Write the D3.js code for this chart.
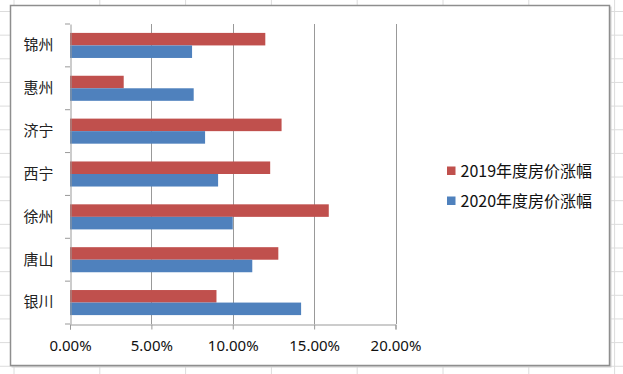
<!DOCTYPE html>
<html>
<head>
<meta charset="utf-8">
<script src="https://cdn.jsdelivr.net/npm/d3@7"></script>
<style>
  body { margin: 0; background: #fff; }
  svg { display: block; }
</style>
</head>
<body>
<div class="canvas"></div>
<script>
// data (Excel lists the first category at the bottom)
const cities = ['银川', '唐山', '徐州', '西宁', '济宁', '惠州', '锦州'];
const seriesNames = ['2019年度房价涨幅', '2020年度房价涨幅'];
const rise2019 = [0.090, 0.128, 0.159, 0.123, 0.130, 0.033, 0.120];
const rise2020 = [0.142, 0.112, 0.100, 0.091, 0.083, 0.076, 0.075];
const xTicks = [0, 0.05, 0.10, 0.15, 0.20];
const colours = ['#C0504D', '#4F81BD'];

const width = 623, height = 374;

const svg = d3.select('.canvas')
  .append('svg')
    .attr('width', width)
    .attr('height', height);

// spreadsheet cells behind the chart
const cellCols = d3.range(-72, width, 85.8).map(v => v + 86);
const cellRows = d3.range(11.5, height, 23.65);
svg.append('g').selectAll('line.col')
  .data(cellCols)
  .enter().append('line')
    .attr('x1', d => d).attr('x2', d => d)
    .attr('y1', 0).attr('y2', height)
    .attr('stroke', '#dcdcdc').attr('stroke-width', 1);
svg.append('g').selectAll('line.row')
  .data(cellRows)
  .enter().append('line')
    .attr('x1', 0).attr('x2', width)
    .attr('y1', d => d).attr('y2', d => d)
    .attr('stroke', '#dcdcdc').attr('stroke-width', 1);

// chart frame
svg.append('rect')
  .attr('x', 11.5).attr('y', 6.5)
  .attr('width', 600).attr('height', 361)
  .attr('fill', '#d0d0d0');
svg.append('rect')
  .attr('x', 10.5).attr('y', 5.5)
  .attr('width', 599).attr('height', 360)
  .attr('fill', '#fff')
  .attr('stroke', '#8e8e8e')
  .attr('stroke-width', 1.5);

// plot area
const plot = {left: 70, right: 395.5, top: 24, bottom: 324};

const x = d3.scaleLinear()
  .domain([0, 0.20])
  .range([plot.left, plot.right]);

const y = d3.scaleBand()
  .domain(cities.slice().reverse())
  .range([plot.top, plot.bottom])
  .paddingInner(0)
  .paddingOuter(0);

const ySub = d3.scaleBand()
  .domain(seriesNames)
  .range([0, y.bandwidth()])
  .paddingInner(0)
  .paddingOuter(0.71);

// vertical gridlines
svg.append('g').selectAll('line')
  .data(xTicks.slice(1))
  .enter().append('line')
    .attr('x1', d => Math.round(x(d)) + 0.5)
    .attr('x2', d => Math.round(x(d)) + 0.5)
    .attr('y1', plot.top).attr('y2', plot.bottom)
    .attr('stroke', '#999').attr('stroke-width', 1);

// bars
const rows = cities.map((c, i) => ({city: c, values: [rise2019[i], rise2020[i]]}));
const groups = svg.append('g').selectAll('g')
  .data(rows)
  .enter().append('g')
    .attr('transform', d => `translate(0, ${y(d.city)})`);

groups.selectAll('rect')
  .data(d => d.values.map((v, j) => ({name: seriesNames[j], value: v, j})))
  .enter().append('rect')
    .attr('x', x(0))
    .attr('y', d => ySub(d.name))
    .attr('width', d => x(d.value) - x(0))
    .attr('height', ySub.bandwidth())
    .attr('fill', d => colours[d.j]);

// axes
const xAxis = d3.axisBottom(x)
  .tickValues(xTicks)
  .tickSize(5)
  .tickFormat(d3.format('.2%'));
const yAxis = d3.axisLeft(y)
  .tickSize(0)
  .tickPadding(17);

const xAxisGroup = svg.append('g')
  .attr('transform', `translate(0, ${plot.bottom + 0.5})`)
  .call(xAxis);
xAxisGroup.select('.domain').attr('stroke', '#999');
xAxisGroup.selectAll('.tick line').attr('stroke', '#999');
xAxisGroup.selectAll('text')
  .attr('fill', '#111')
  .attr('dy', 0)
  .attr('y', 26.5)
  .style('font-family', '"Noto Sans", "DejaVu Sans", sans-serif')
  .style('font-size', '15px');

const yAxisGroup = svg.append('g')
  .attr('transform', `translate(${plot.left + 0.5}, 0)`)
  .call(yAxis);
yAxisGroup.select('.domain').attr('stroke', '#999');
yAxisGroup.selectAll('text')
  .attr('fill', '#222')
  .style('font-family', '"Noto Sans CJK SC", sans-serif')
  .style('font-size', '15px');

// category tick marks on the left, at the band edges
svg.append('g').selectAll('line')
  .data(d3.range(cities.length + 1))
  .enter().append('line')
    .attr('x1', plot.left - 5).attr('x2', plot.left)
    .attr('y1', i => plot.top + i * y.step())
    .attr('y2', i => plot.top + i * y.step())
    .attr('stroke', '#999');

// legend
const legend = svg.append('g')
  .attr('transform', 'translate(447, 171)');
const items = legend.selectAll('g')
  .data(seriesNames)
  .enter().append('g')
    .attr('transform', (d, i) => `translate(0, ${i * 30})`);
items.append('rect')
  .attr('x', 0).attr('y', -4.5)
  .attr('width', 8.5).attr('height', 8.5)
  .attr('fill', (d, i) => colours[i]);
items.append('text')
  .attr('x', 13.5)
  .attr('dy', '0.36em')
  .attr('fill', '#111')
  .style('font-family', '"Noto Sans CJK SC", sans-serif')
  .style('font-size', '16px')
  .text(d => d);
</script>
</body>
</html>
